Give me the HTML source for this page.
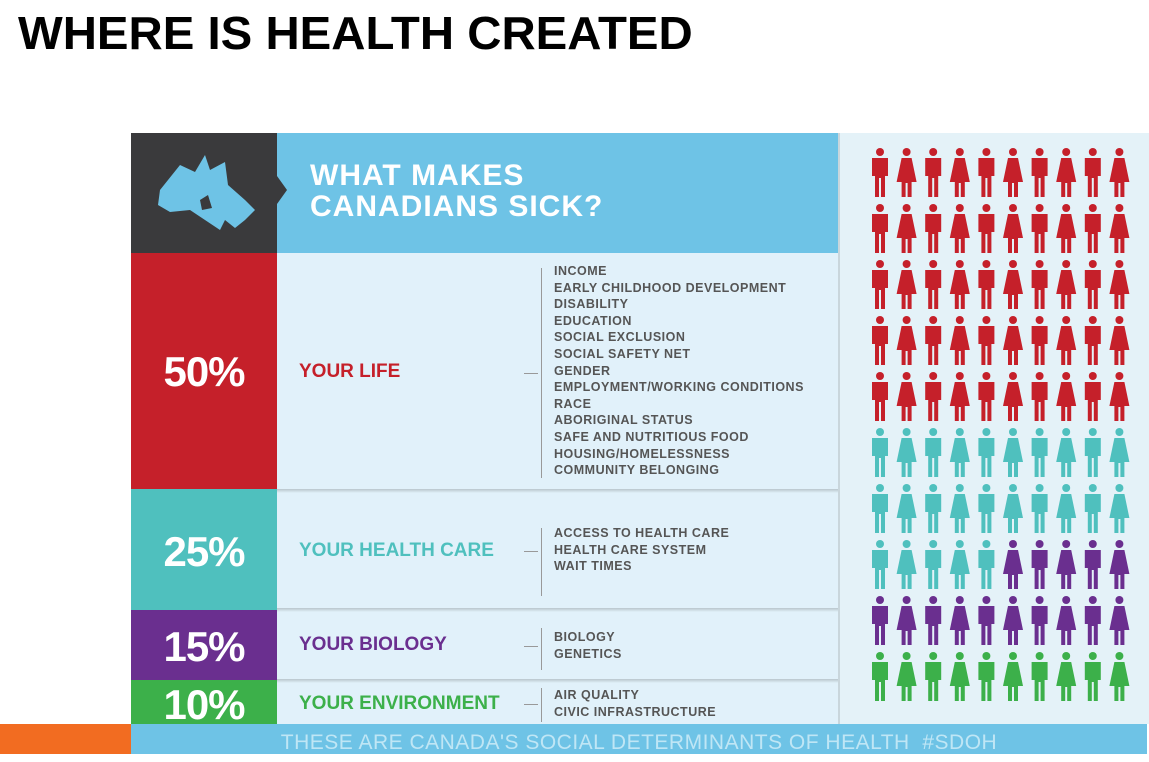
<!DOCTYPE html>
<html><head><meta charset="utf-8"><style>
body{margin:0;width:1149px;height:754px;background:#fff;position:relative;overflow:hidden;font-family:"Liberation Sans",sans-serif}
.a{position:absolute}
h1{position:absolute;left:18px;top:6px;margin:0;font-size:46px;font-weight:bold;color:#000;letter-spacing:0px;transform:scaleX(1.03);transform-origin:left}
.pct{position:absolute;left:131px;width:146px;text-align:center;color:#fff;font-weight:bold;font-size:42px;letter-spacing:-1px}
.lab{position:absolute;left:299px;font-weight:bold;font-size:19px}
.list{position:absolute;left:554px;font-weight:bold;font-size:12.5px;color:#555;line-height:16.6px;letter-spacing:0.5px}
.vl{position:absolute;left:541px;width:1px;background:#999}
.hl{position:absolute;left:524px;width:14px;height:1px;background:#999}
.sep{position:absolute;left:277px;width:561px;height:4px;background:linear-gradient(#b9c6cc,#e1f1fa)}
</style></head><body>
<h1>WHERE IS HEALTH CREATED</h1>
<div class="a" style="left:131px;top:133px;width:1016px;height:621px;background:#e1f1fa"></div>
<div class="a" style="left:838px;top:133px;width:309px;height:591px;background:#e4f2f8;border-left:2px solid #c9d6dc"></div>
<div class="a" style="left:131px;top:133px;width:146px;height:120px;background:#3a3a3c"></div>
<div class="a" style="left:277px;top:133px;width:561px;height:120px;background:#6ec3e6"></div>
<div class="a" style="left:277px;top:176px;width:0;height:0;border-top:14px solid transparent;border-bottom:14px solid transparent;border-left:10px solid #3a3a3c"></div>
<svg class="a" style="left:150px;top:150px" width="110" height="90" viewBox="0 0 110 90"><path d="M10 40 L30 15 L45 22 L55 5 L60 20 L75 12 L78 35 L95 50 L105 60 L95 70 L85 78 L75 70 L70 80 L55 70 L40 60 L20 62 L8 55 Z" fill="#6ec3e6"/><path d="M50 50 L58 45 L62 58 L52 60Z" fill="#3a3a3c"/></svg>
<div class="a" style="left:310px;top:160px;color:#fff;font-weight:bold;font-size:30px;line-height:31px;letter-spacing:1px">WHAT MAKES<br>CANADIANS SICK?</div>
<div class="a" style="left:131px;top:253px;width:146px;height:236px;background:#c5202a"></div>
<div class="a" style="left:131px;top:489px;width:146px;height:121px;background:#4fc0be"></div>
<div class="a" style="left:131px;top:610px;width:146px;height:70px;background:#6a2f8f"></div>
<div class="a" style="left:131px;top:680px;width:146px;height:44px;background:#3cb04a"></div>
<div class="a" style="left:0;top:724px;width:131px;height:30px;background:#f26c21"></div>
<div class="a" style="left:131px;top:724px;width:1016px;height:30px;background:#6ec3e6;color:#bfe6f5;font-size:21px;text-align:center;line-height:38px;letter-spacing:0.5px">THESE ARE CANADA'S SOCIAL DETERMINANTS OF HEALTH &nbsp;#SDOH</div>
<div class="sep" style="top:489px"></div><div class="sep" style="top:608px"></div><div class="sep" style="top:679px"></div>
<div class="pct" style="top:348px">50%</div>
<div class="pct" style="top:528px">25%</div>
<div class="pct" style="top:623px">15%</div>
<div class="pct" style="top:681px">10%</div>
<div class="lab" style="top:361px;color:#c5202a">YOUR LIFE</div>
<div class="lab" style="top:540px;color:#4fc0be">YOUR HEALTH CARE</div>
<div class="lab" style="top:634px;color:#6a2f8f">YOUR BIOLOGY</div>
<div class="lab" style="top:693px;color:#3cb04a">YOUR ENVIRONMENT</div>
<div class="vl" style="top:268px;height:210px"></div><div class="hl" style="top:373px"></div>
<div class="vl" style="top:528px;height:68px"></div><div class="hl" style="top:551px"></div>
<div class="vl" style="top:628px;height:42px"></div><div class="hl" style="top:646px"></div>
<div class="vl" style="top:688px;height:34px"></div><div class="hl" style="top:704px"></div>
<div class="list" style="top:263px">INCOME<br>EARLY CHILDHOOD DEVELOPMENT<br>DISABILITY<br>EDUCATION<br>SOCIAL EXCLUSION<br>SOCIAL SAFETY NET<br>GENDER<br>EMPLOYMENT/WORKING CONDITIONS<br>RACE<br>ABORIGINAL STATUS<br>SAFE AND NUTRITIOUS FOOD<br>HOUSING/HOMELESSNESS<br>COMMUNITY BELONGING</div>
<div class="list" style="top:525px">ACCESS TO HEALTH CARE<br>HEALTH CARE SYSTEM<br>WAIT TIMES</div>
<div class="list" style="top:629px">BIOLOGY<br>GENETICS</div>
<div class="list" style="top:687px">AIR QUALITY<br>CIVIC INFRASTRUCTURE</div>
<svg class="a" style="left:0;top:0" width="1149" height="754">
<defs>
<g id="m"><circle cx="0" cy="4" r="4"/><path d="M-8 10 H8 V28 H5 V49 H1 V30 H-1 V49 H-5 V28 H-8Z"/></g>
<g id="f"><circle cx="0" cy="4" r="4"/><path d="M-5 10 H5 L10 34 H5 V49 H1 V35 H-1 V49 H-5 V34 H-10Z"/></g>
</defs>
<g id="grid"></g>
</svg>
<script>
var cols=['#c5202a','#c5202a','#c5202a','#c5202a','#c5202a','#4fc0be','#4fc0be','x','#6a2f8f','#3cb04a'];
var g=document.getElementById('grid'),s='';
for(var r=0;r<10;r++)for(var c=0;c<10;c++){
var col=cols[r];if(col=='x')col=c<5?'#4fc0be':'#6a2f8f';
var x=880+c*26.6,y=148+r*56;
s+='<use href="#'+(c%2?'f':'m')+'" x="'+x+'" y="'+y+'" fill="'+col+'"/>';}
g.innerHTML=s;
</script>
</body></html>
